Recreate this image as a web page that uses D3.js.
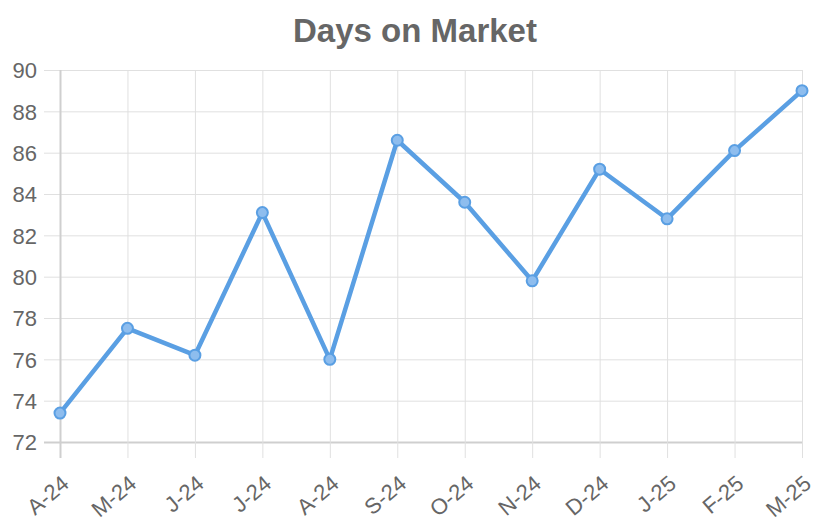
<!DOCTYPE html>
<html>
<head>
<meta charset="utf-8">
<script src="https://cdn.jsdelivr.net/npm/d3@7"></script>
<style>
  body { margin: 0; background: #fff; }
  text { font-family: "Liberation Sans", Helvetica, Arial, sans-serif; }
</style>
</head>
<body>
<div id="chart-area"></div>
<script>
const months = ["A-24", "M-24", "J-24", "J-24", "A-24", "S-24", "O-24", "N-24", "D-24", "J-25", "F-25", "M-25"];
const days = [73.4, 77.5, 76.2, 83.1, 76.0, 86.6, 83.6, 79.8, 85.2, 82.8, 86.1, 89.0];
const yTicks = [72, 74, 76, 78, 80, 82, 84, 86, 88, 90];

const SVG_WIDTH = 826;
const SVG_HEIGHT = 532;
const margin = { left: 60, right: 24, top: 70, bottom: 90 };
const width = SVG_WIDTH - margin.left - margin.right;
const height = SVG_HEIGHT - margin.top - margin.bottom;

const svg = d3.select("#chart-area").append("svg")
    .attr("width", SVG_WIDTH).attr("height", SVG_HEIGHT);

svg.append("text")
    .attr("x", 415).attr("y", 42)
    .attr("text-anchor", "middle")
    .attr("font-size", "33px").attr("font-weight", "bold")
    .style("fill", "#666")
    .text("Days on Market");

const group = svg.append("g").attr("transform", `translate(${margin.left},${margin.top})`);

const x = d3.scalePoint().domain(d3.range(months.length)).range([0, width]);
const y = d3.scaleLinear().domain([72, 90]).range([height, 0]);

// horizontal grid + y labels
const yAxis = d3.axisLeft(y).tickValues(yTicks).tickSize(0);
const yg = group.append("g").call(yAxis);
yg.select(".domain").remove();
yg.selectAll("line").attr("x1", -16).attr("x2", width)
    .attr("stroke", d => d === 72 ? "#cfcfcf" : "#e0e0e0")
    .attr("stroke-width", d => d === 72 ? 2 : 1);
yg.selectAll("text").attr("font-size", "22px").style("fill", "#666").attr("x", -23).attr("dy", "0.35em");

// vertical grid + x labels
const xAxis = d3.axisBottom(x).tickSize(0).tickFormat(i => months[i]);
const xg = group.append("g").attr("transform", `translate(0,${height})`).call(xAxis);
xg.select(".domain").remove();
xg.selectAll(".tick line").attr("y1", -height).attr("y2", 16)
    .attr("stroke", (d, i) => i === 0 ? "#cfcfcf" : "#e0e0e0")
    .attr("stroke-width", (d, i) => i === 0 ? 2 : 1);
xg.selectAll("text")
    .attr("font-size", "22px").style("fill", "#666")
    .attr("text-anchor", "end")
    .attr("x", 0).attr("y", 0).attr("dy", 0)
    .attr("transform", "translate(10,44) rotate(-40)");

const line = d3.line().x((d, i) => x(i)).y(d => y(d));
group.append("path").datum(days)
    .attr("fill", "none")
    .attr("stroke", "#5a9fe3")
    .attr("stroke-width", 4.5)
    .attr("stroke-linejoin", "round")
    .attr("d", line);

group.selectAll("circle").data(days).enter().append("circle")
    .attr("cx", (d, i) => x(i))
    .attr("cy", d => y(d))
    .attr("r", 5.5)
    .attr("fill", "#8ebdee")
    .attr("stroke", "#5a9fe3")
    .attr("stroke-width", 2);
</script>
</body>
</html>
